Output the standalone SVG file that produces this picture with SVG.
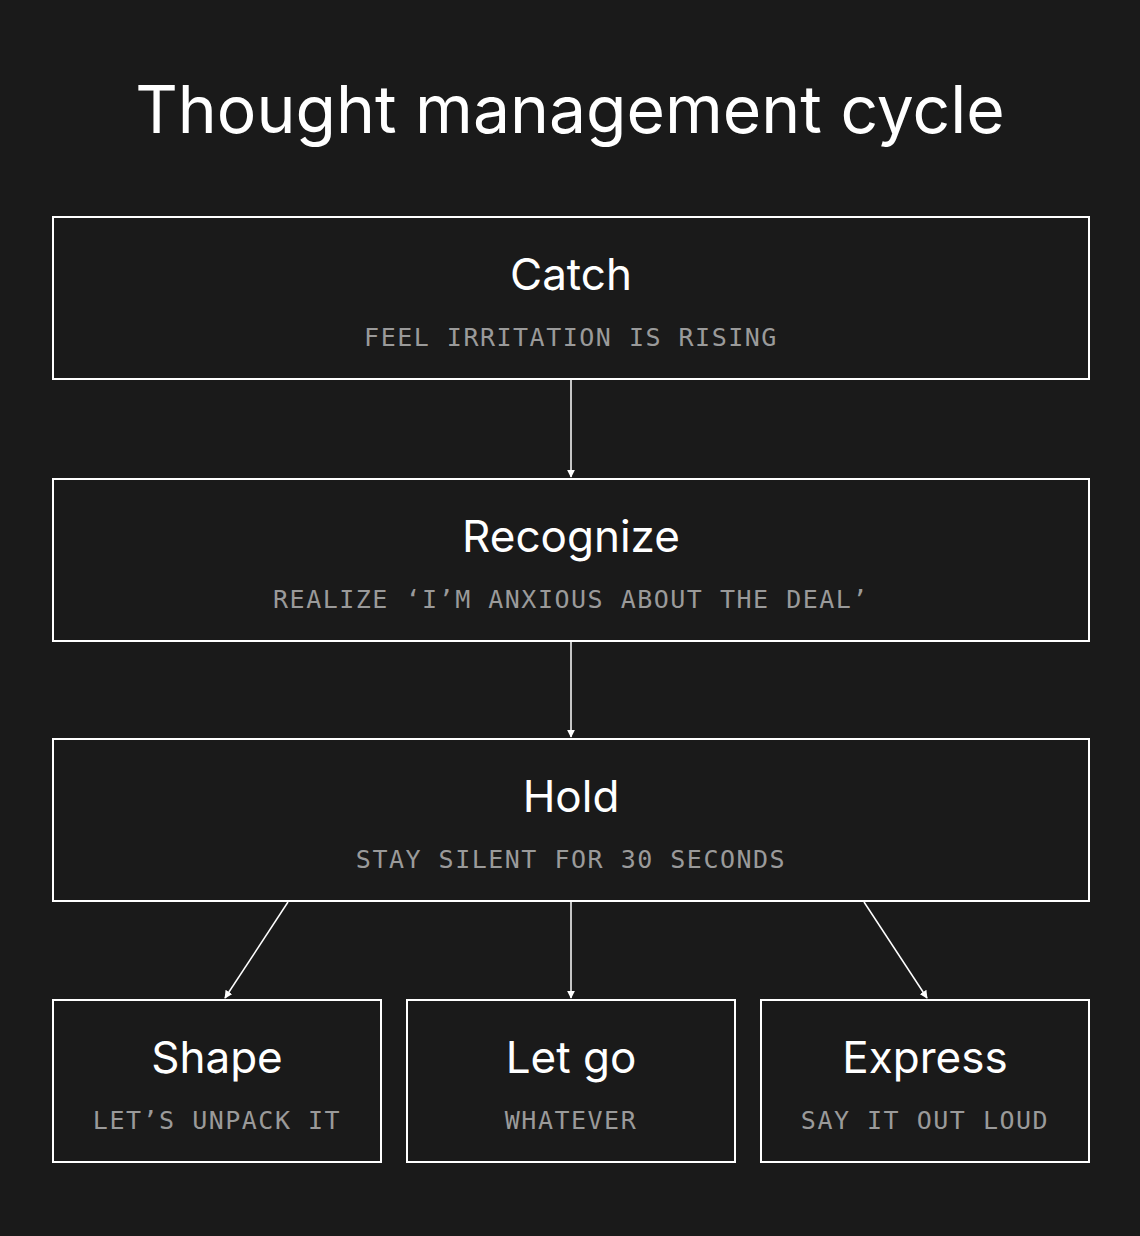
<svg xmlns="http://www.w3.org/2000/svg" width="1140" height="1236" viewBox="0 0 1140 1236">
<defs>
<style>
.box{fill:#1a1a1a;stroke:#fff;stroke-width:2}
.t{font-family:Inter,"Noto Sans",sans-serif;font-size:44px;fill:#fff;text-anchor:middle}
.s{font-family:"DejaVu Sans Mono","Liberation Mono",monospace;font-size:25px;fill:#9a9a9a;text-anchor:middle;letter-spacing:1.5px}
.c{stroke:#fff;stroke-width:1.5;fill:none;marker-end:url(#a)}
</style>
<marker id="a" viewBox="0 0 10 10" refX="9" refY="5" markerWidth="8" markerHeight="8" markerUnits="userSpaceOnUse" orient="auto"><path d="M0,0L10,5L0,10z" fill="#fff"/></marker>
</defs>
<rect width="1140" height="1236" fill="#1a1a1a"/>
<text x="570" y="133" font-family="Inter,'Noto Sans',sans-serif" font-size="66" fill="#fff" text-anchor="middle">Thought management cycle</text>
<g id="connectors">
<line class="c" x1="571" y1="380" x2="571" y2="477"/>
<line class="c" x1="571" y1="642" x2="571" y2="737"/>
<line class="c" x1="288" y1="902" x2="225" y2="998"/>
<line class="c" x1="571" y1="902" x2="571" y2="998"/>
<line class="c" x1="864" y1="902" x2="927" y2="998"/>
</g>
<g id="catch"><rect class="box" x="53" y="217" width="1036" height="162"/><text class="t" x="571" y="290">Catch</text><text class="s" x="571" y="346">FEEL IRRITATION IS RISING</text></g>
<g id="recognize"><rect class="box" x="53" y="479" width="1036" height="162"/><text class="t" x="571" y="552">Recognize</text><text class="s" x="571" y="608">REALIZE ‘I’M ANXIOUS ABOUT THE DEAL’</text></g>
<g id="hold"><rect class="box" x="53" y="739" width="1036" height="162"/><text class="t" x="571" y="812">Hold</text><text class="s" x="571" y="868">STAY SILENT FOR 30 SECONDS</text></g>
<g id="shape"><rect class="box" x="53" y="1000" width="328" height="162"/><text class="t" x="217" y="1073">Shape</text><text class="s" x="217" y="1129">LET’S UNPACK IT</text></g>
<g id="letgo"><rect class="box" x="407" y="1000" width="328" height="162"/><text class="t" x="571" y="1073">Let go</text><text class="s" x="571" y="1129">WHATEVER</text></g>
<g id="express"><rect class="box" x="761" y="1000" width="328" height="162"/><text class="t" x="925" y="1073">Express</text><text class="s" x="925" y="1129">SAY IT OUT LOUD</text></g>
</svg>
